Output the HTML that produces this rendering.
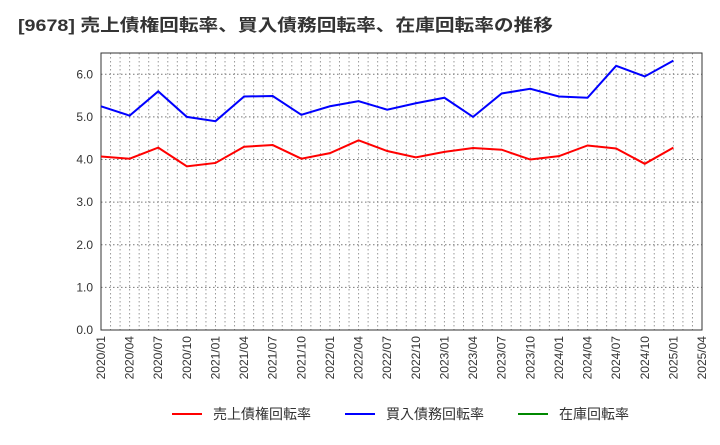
<!DOCTYPE html>
<html><head><meta charset="utf-8"><style>
body{margin:0;background:#fff;font-family:"Liberation Sans","Noto Sans CJK JP",sans-serif}
</style></head><body>
<svg width="720" height="440" xmlns="http://www.w3.org/2000/svg" font-family="Liberation Sans, Noto Sans CJK JP, sans-serif">
<text x="18" y="31" font-size="17" font-weight="bold" fill="#333" textLength="535" lengthAdjust="spacingAndGlyphs">[9678]  売上債権回転率、買入債務回転率、在庫回転率の推移</text>
<g id="grid"></g><g id="axes"></g><g id="series"></g>
<g>
<line x1="172" y1="414" x2="202" y2="414" stroke="#f00" stroke-width="2"/>
<text x="213" y="419" font-size="14" fill="#333">売上債権回転率</text>
<line x1="345" y1="414" x2="375" y2="414" stroke="#00f" stroke-width="2"/>
<text x="386" y="419" font-size="14" fill="#333">買入債務回転率</text>
<line x1="518" y1="414" x2="548" y2="414" stroke="#080" stroke-width="2"/>
<text x="559" y="419" font-size="14" fill="#333">在庫回転率</text>
</g>
</svg>
<script>
const xLabels=["2020/01","2020/04","2020/07","2020/10","2021/01","2021/04","2021/07","2021/10","2022/01","2022/04","2022/07","2022/10","2023/01","2023/04","2023/07","2023/10","2024/01","2024/04","2024/07","2024/10","2025/01","2025/04"];
const yTicks=[0,1,2,3,4,5,6];
const receivables=[4.07,4.02,4.28,3.84,3.92,4.3,4.34,4.02,4.15,4.45,4.2,4.05,4.18,4.27,4.23,4.0,4.08,4.33,4.26,3.9,4.28];
const payables=[5.25,5.03,5.6,5.0,4.9,5.48,5.49,5.05,5.25,5.37,5.17,5.32,5.45,5.0,5.55,5.66,5.48,5.45,6.2,5.95,6.32];
const NS="http://www.w3.org/2000/svg";
const L=101,R=702,T=53,B=330,yMax=6.5;
const qw=(R-L)/21;
const x=i=>L+i*qw;
const y=v=>B-v/yMax*(B-T);
function mk(t,a,p){const e=document.createElementNS(NS,t);for(const k in a)e.setAttribute(k,a[k]);p.appendChild(e);return e;}
const grid=document.getElementById('grid'),axes=document.getElementById('axes'),ser=document.getElementById('series');
for(let m=1;m<63;m++){const l=mk('line',{x1:L+m*qw/3,x2:L+m*qw/3,y1:T,y2:B,stroke:'#999','stroke-dasharray':'1.5,2.5','stroke-width':1},grid);

}
yTicks.forEach(v=>{if(v>0){const l=mk('line',{x1:L,x2:R,y1:y(v),y2:y(v),stroke:'#777','stroke-dasharray':'1.5,2.5'},grid);

}
const t=mk('text',{x:L-8,y:y(v)+4,'font-size':12,'text-anchor':'end',fill:'#333'},axes);t.textContent=v.toFixed(1);

});
xLabels.forEach((s,i)=>{const t=mk('text',{transform:`translate(${x(i)+4},${B+6}) rotate(-90)`,'font-size':12,'text-anchor':'end',fill:'#333'},axes);t.textContent=s;

});
const box=mk('rect',{x:L,y:T,width:R-L,height:B-T,fill:'none',stroke:'#333'},axes);


[[receivables,'#f00','receivables-turnover-line'],[payables,'#00f','payables-turnover-line']].forEach(([d,c,n])=>{
const p=mk('polyline',{points:d.map((v,i)=>x(i)+','+y(v)).join(' '),fill:'none',stroke:c,'stroke-width':2},ser);

});
</script>
</body></html>
